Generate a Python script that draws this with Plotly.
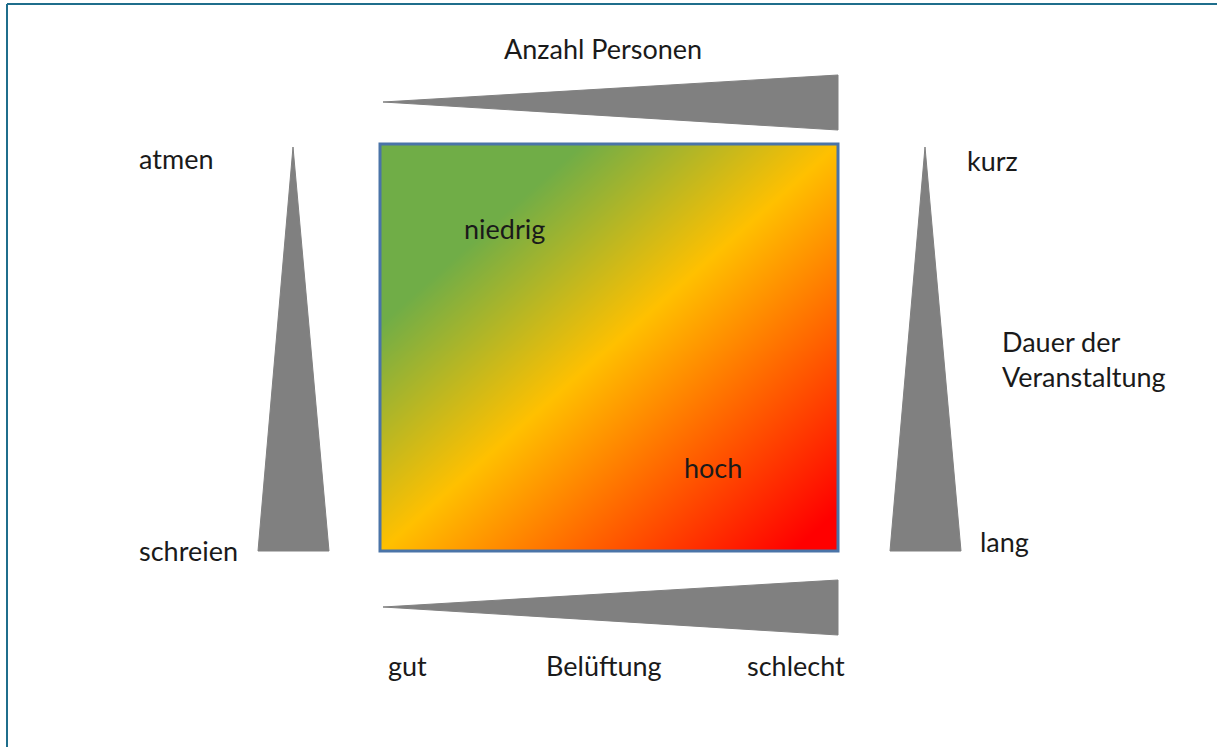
import numpy as np
import plotly.graph_objects as go

W, H = 1217, 747

# Square (risk field)
square_x = [380, 838]
square_y = [144, 551]
grad_colors = [[0.0, "#70AD47"], [0.22, "#70AD47"], [0.5, "#FFC000"], [0.95, "#FF0000"], [1.0, "#FF0000"]]

# Wedges (triangles) as vertex lists
tri_top_x = [383, 838, 838]
tri_top_y = [102, 75, 130]
tri_bottom_x = [383, 838, 838]
tri_bottom_y = [607, 580, 635]
tri_left_x = [293, 258, 329]
tri_left_y = [147, 551, 551]
tri_right_x = [925, 890, 961]
tri_right_y = [147, 551, 551]

# Labels
label_texts = ["Anzahl Personen", "atmen", "schreien", "kurz", "lang",
               "Dauer der<br>Veranstaltung", "niedrig", "hoch",
               "gut", "Belüftung", "schlecht"]
label_x = [603, 137, 137, 965, 978, 1000, 462, 682, 386, 544, 745]
label_y = [48, 158, 550, 160, 541, 359, 228, 467, 665, 665, 665]
label_anchor = ["center", "left", "left", "left", "left", "left", "left", "left", "left", "left", "left"]

fig = go.Figure()

# gradient fill
nx, ny = 230, 205
xs = np.linspace(square_x[0], square_x[1], nx)
ys = np.linspace(square_y[0], square_y[1], ny)
u = (xs - square_x[0]) / (square_x[1] - square_x[0])
v = (ys - square_y[0]) / (square_y[1] - square_y[0])
z = (u[None, :] + v[:, None]) / 2.0
fig.add_trace(go.Heatmap(x=xs, y=ys, z=z, colorscale=grad_colors, zmin=0, zmax=1,
                         showscale=False, zsmooth="best", hoverinfo="skip"))

for tx, ty in [(tri_top_x, tri_top_y), (tri_bottom_x, tri_bottom_y),
               (tri_left_x, tri_left_y), (tri_right_x, tri_right_y)]:
    fig.add_trace(go.Scatter(x=tx + [tx[0]], y=ty + [ty[0]], mode="lines", fill="toself",
                             fillcolor="#808080", line=dict(color="#808080", width=1),
                             hoverinfo="skip", showlegend=False))

fig.add_shape(type="rect", x0=square_x[0], x1=square_x[1], y0=square_y[0], y1=square_y[1],
              line=dict(color="#4A74A8", width=3), fillcolor="rgba(0,0,0,0)")

# window border (left and top)
fig.add_shape(type="line", x0=7, x1=7, y0=4, y1=H, line=dict(color="#1F6E8C", width=2))
fig.add_shape(type="line", x0=7, x1=W, y0=4, y1=4, line=dict(color="#1F6E8C", width=2))

for t, x, y, a in zip(label_texts, label_x, label_y, label_anchor):
    fig.add_annotation(x=x, y=y, text=t, showarrow=False, xanchor=a, yanchor="middle",
                       align="left", font=dict(family="Lato", size=27, color="#1a1a1a"))

fig.update_layout(
    width=W, height=H, margin=dict(l=0, r=0, t=0, b=0),
    paper_bgcolor="white", plot_bgcolor="white", showlegend=False,
    xaxis=dict(range=[0, W], visible=False, fixedrange=True),
    yaxis=dict(range=[H, 0], visible=False, fixedrange=True),
)

fig.write_html("out.html", config={"displayModeBar": False, "staticPlot": True},
               post_script="document.body.style.margin='0';document.body.style.overflow='hidden';")
